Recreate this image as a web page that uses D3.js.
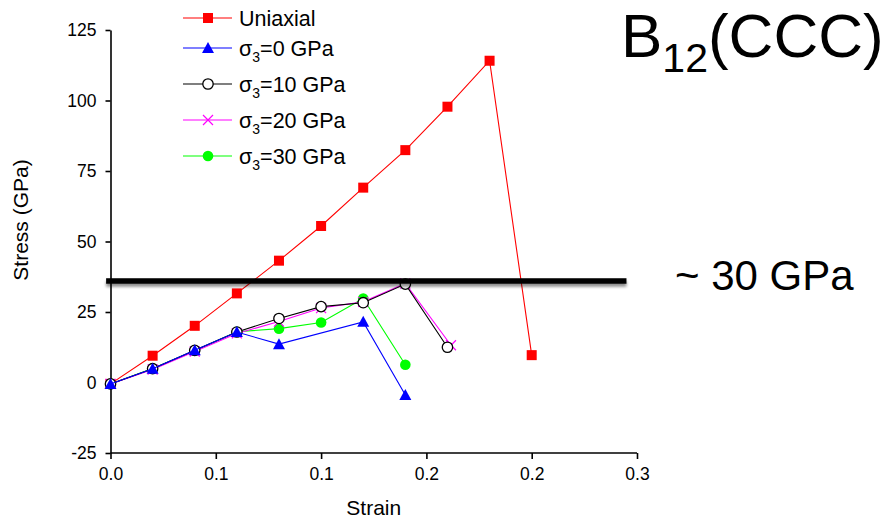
<!DOCTYPE html>
<html>
<head>
<meta charset="utf-8">
<script src="https://cdn.jsdelivr.net/npm/d3@7"></script>
<style>
  html, body { margin: 0; padding: 0; background: #fff; }
  svg { display: block; font-family: "Liberation Sans", Arial, sans-serif; }
</style>
</head>
<body>
<svg id="chart" width="889" height="522"></svg>
<script>
// Strain values (x) shared by the loading steps
const strainSteps = [0, 0.024, 0.048, 0.072, 0.096, 0.12, 0.144, 0.168, 0.192, 0.216, 0.24];

// Stress (GPa) for each loading condition
const uniaxialStrain = strainSteps;
const uniaxialStress = [-0.5, 9.5, 20.1, 31.6, 43.2, 55.5, 69.1, 82.4, 97.8, 114.1, 9.7];

const sigma0Strain = [0, 0.024, 0.048, 0.072, 0.096, 0.144, 0.168];
const sigma0Stress = [-0.5, 4.9, 11.4, 17.9, 13.6, 21.5, -4.4];

const sigma10Strain = [0, 0.024, 0.048, 0.072, 0.096, 0.12, 0.144, 0.168, 0.192];
const sigma10Stress = [-0.5, 4.9, 11.4, 17.9, 22.7, 26.9, 28.3, 34.9, 12.5];

const sigma20Strain = [0, 0.024, 0.048, 0.072, 0.096, 0.12, 0.144, 0.168, 0.194];
const sigma20Stress = [-0.5, 4.6, 11.0, 17.4, 21.6, 26.4, 28.6, 35.1, 13.2];

const sigma30Strain = [0, 0.024, 0.048, 0.072, 0.096, 0.12, 0.144, 0.168];
const sigma30Stress = [-0.5, 5.0, 11.3, 18.0, 19.1, 21.3, 29.8, 6.3];

// Axis ticks and their printed labels (one decimal place)
const xTicks = [0, 0.06, 0.12, 0.18, 0.24, 0.3];
const xTickLabels = ["0.0", "0.1", "0.1", "0.2", "0.2", "0.3"];
const yTicks = [-25, 0, 25, 50, 75, 100, 125];

// Strength threshold marker
const thresholdStress = 36;
const thresholdStrainRange = [-0.0025, 0.294];

const seriesNames = ["Uniaxial", "σ3=0 GPa", "σ3=10 GPa", "σ3=20 GPa", "σ3=30 GPa"];

const series = [
  { name: seriesNames[0], xs: uniaxialStrain, ys: uniaxialStress, color: "#ff0000", marker: "square" },
  { name: seriesNames[1], xs: sigma0Strain, ys: sigma0Stress, color: "#0000ff", marker: "triangle" },
  { name: seriesNames[2], xs: sigma10Strain, ys: sigma10Stress, color: "#000000", marker: "open" },
  { name: seriesNames[3], xs: sigma20Strain, ys: sigma20Stress, color: "#ff00ff", marker: "cross" },
  { name: seriesNames[4], xs: sigma30Strain, ys: sigma30Stress, color: "#00ff00", marker: "dot" }
];

const svg = d3.select("#chart");

const plot = { left: 110.5, right: 637, top: 30, bottom: 453 };
const x = d3.scaleLinear().domain([0, 0.3]).range([plot.left, plot.right]);
const y = d3.scaleLinear().domain([-25, 125]).range([plot.bottom, plot.top]);

const defs = svg.append("defs");
defs.append("filter").attr("id", "soft")
  .attr("filterUnits", "userSpaceOnUse")
  .attr("x", 0).attr("y", 0).attr("width", 889).attr("height", 522)
  .append("feGaussianBlur").attr("stdDeviation", 1.8);

// Axes
const xAxis = d3.axisBottom(x).tickValues(xTicks)
  .tickFormat((d, i) => xTickLabels[i]).tickSize(6).tickPadding(9).tickSizeOuter(0);
const yAxis = d3.axisLeft(y).tickValues(yTicks).tickFormat(d => String(d))
  .tickSize(5).tickPadding(9).tickSizeOuter(0);

const gx = svg.append("g").attr("transform", `translate(0,${plot.bottom})`).call(xAxis);
const gy = svg.append("g").attr("transform", `translate(${plot.left},0)`).call(yAxis);
[gx, gy].forEach(g => {
  g.selectAll("path, line").attr("stroke", "#000").attr("stroke-width", 1.6);
  g.selectAll("text").attr("fill", "#000").style("font-size", "17.5px")
    .style("font-family", "'Liberation Sans', Arial, sans-serif");
});
gx.select(".domain").attr("d", `M${plot.left},0H${plot.right}`);

// Axis titles
svg.append("text").attr("x", (plot.left + plot.right) / 2).attr("y", 515)
  .attr("text-anchor", "middle").style("font-size", "21px").text("Strain");
svg.append("text").attr("transform", "translate(28,220) rotate(-90)")
  .attr("text-anchor", "middle").style("font-size", "21px").text("Stress (GPa)");

// Marker drawing
function drawMarker(g, type, color) {
  if (type === "square") {
    g.append("rect").attr("x", -5).attr("y", -5).attr("width", 10).attr("height", 10).attr("fill", color);
  } else if (type === "triangle") {
    g.append("path").attr("d", "M0,-6L6,5L-6,5Z").attr("fill", color);
  } else if (type === "open") {
    g.append("circle").attr("r", 5.2).attr("fill", "#fff").attr("stroke", color).attr("stroke-width", 1.3);
  } else if (type === "cross") {
    g.append("path").attr("d", "M-5,-5L5,5M-5,5L5,-5").attr("stroke", color).attr("stroke-width", 1.2).attr("fill", "none");
  } else if (type === "dot") {
    g.append("circle").attr("r", 5.3).attr("fill", color);
  }
}

const line = d3.line().x(d => x(d[0])).y(d => y(d[1]));

// Draw order: uniaxial first, then confined series from highest to lowest confinement
const drawOrder = [0, 4, 3, 2, 1];
drawOrder.forEach(i => {
  const s = series[i];
  const pts = s.xs.map((v, k) => [v, s.ys[k]]);
  const g = svg.append("g");
  g.append("path").datum(pts).attr("d", line)
    .attr("fill", "none").attr("stroke", s.color).attr("stroke-width", 1.1);
  pts.forEach(p => {
    const m = g.append("g").attr("transform", `translate(${x(p[0])},${y(p[1])})`);
    drawMarker(m, s.marker, s.color);
  });
});

// Threshold bar with a soft shadow beneath it
const tx0 = x(thresholdStrainRange[0]);
const tx1 = x(thresholdStrainRange[1]);
const ty = y(thresholdStress);
svg.append("rect")
  .attr("x", tx0).attr("width", tx1 - tx0)
  .attr("y", ty - 2.75 + 3).attr("height", 5.5)
  .attr("fill", "#000").attr("opacity", 0.45).attr("filter", "url(#soft)");
svg.append("rect")
  .attr("x", tx0).attr("width", tx1 - tx0)
  .attr("y", ty - 2.75).attr("height", 5.5)
  .attr("fill", "#000");

svg.append("text").attr("x", 675).attr("y", 290).style("font-size", "42px").text("~ 30 GPa");

// Title with subscript
const title = svg.append("text").attr("x", 621).attr("y", 57).style("font-size", "62px");
title.append("tspan").text("B");
title.append("tspan").attr("dy", 15).style("font-size", "41px").text("12");
title.append("tspan").attr("dy", -15).text("(CCC)");

// Legend
const legend = svg.append("g");
series.forEach((s, i) => {
  const ly = i === 0 ? 18 : 48 + (i - 1) * 36;
  const row = legend.append("g").attr("transform", `translate(0,${ly})`);
  row.append("line").attr("x1", 183).attr("x2", 232).attr("y1", 0).attr("y2", 0)
    .attr("stroke", s.color).attr("stroke-width", 1.1);
  drawMarker(row.append("g").attr("transform", "translate(208,0)"), s.marker, s.color);
  const t = row.append("text").attr("x", 239).attr("y", 7.5).style("font-size", "21.5px");
  if (s.name.startsWith("σ3")) {
    t.append("tspan").text("σ");
    t.append("tspan").attr("dy", 6).style("font-size", "14px").text("3");
    t.append("tspan").attr("dy", -6).text(s.name.slice(2));
  } else {
    t.text(s.name);
  }
});
</script>
</body>
</html>
